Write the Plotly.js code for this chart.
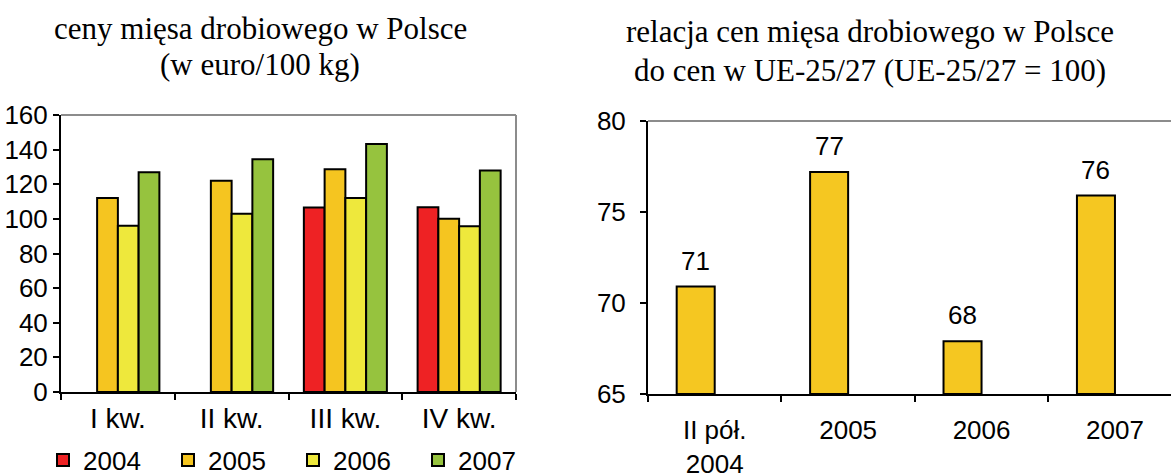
<!DOCTYPE html>
<html>
<head>
<meta charset="utf-8">
<script src="https://cdn.plot.ly/plotly-3.0.1.min.js"></script>
<style>
  html, body { margin: 0; padding: 0; background: #ffffff; overflow: hidden; }
  #chart { width: 1171px; height: 476px; }
</style>
</head>
<body>
<div id="chart"></div>
<script>
// ---- Data: left chart (prices, euro/100 kg) ----
const quarters = ["I kw.", "II kw.", "III kw.", "IV kw."];
const years = ["2004", "2005", "2006", "2007"];
const price2004 = [null, null, 106.5, 106.7];
const price2005 = [112, 122, 128.6, 100];
const price2006 = [96, 103, 112, 95.7];
const price2007 = [127, 134.4, 143.2, 128];
const yearColors = ["#EE2224", "#F5C520", "#EEE83C", "#96C33E"];

// ---- Data: right chart (ratio to EU-25/27 = 100) ----
const periods = ["II pół.<br>2004", "2005", "2006", "2007"];
const ratioValues = [70.9, 77.2, 67.9, 75.9];
const ratioLabels = ["71", "77", "68", "76"];

// ---- Titles ----
const leftTitle = ["ceny mięsa drobiowego w Polsce", "(w euro/100 kg)"];
const rightTitle = ["relacja cen mięsa drobiowego w Polsce", "do cen w UE-25/27 (UE-25/27 = 100)"];

const sans = "Liberation Sans, Arial, sans-serif";
const serif = "Liberation Serif, Times New Roman, serif";
const W = 1171, H = 476;
const FS = 26;

const priceSeries = [price2004, price2005, price2006, price2007];
const traces = priceSeries.map((vals, i) => ({
  type: "bar",
  name: years[i],
  x: quarters,
  y: vals,
  xaxis: "x",
  yaxis: "y",
  marker: { color: yearColors[i], line: { color: "#000000", width: 2 } },
  hoverinfo: "x+y+name"
}));

const barW = 0.285;
traces.push({
  type: "bar",
  name: "relacja",
  x: periods,
  y: ratioValues.map(v => v - 65),
  base: 65,
  xaxis: "x2",
  yaxis: "y2",
  offset: -barW,
  width: barW,
  showlegend: false,
  marker: { color: "#F5C721", line: { color: "#000000", width: 2 } }
});

const axisCommon = {
  showgrid: false,
  zeroline: false,
  showline: true,
  linecolor: "#000000",
  linewidth: 2,
  ticks: "outside",
  ticklen: 6,
  tickwidth: 2,
  tickcolor: "#000000",
  automargin: false,
  tickfont: { family: sans, size: FS, color: "#000000" }
};

function titleLine(text, xPx, centerYPx) {
  return {
    xref: "paper", yref: "paper",
    x: xPx / W, y: 1 - centerYPx / H,
    xanchor: "center", yanchor: "middle",
    text: text,
    showarrow: false,
    font: { family: serif, size: 31, color: "#000000" }
  };
}

const annotations = [
  titleLine(leftTitle[0], 260, 28),
  titleLine(leftTitle[1], 260, 65),
  titleLine(rightTitle[0], 870, 32),
  titleLine(rightTitle[1], 870, 70)
];
ratioValues.forEach((v, i) => {
  annotations.push({
    xref: "x2", yref: "y2",
    x: i - barW / 2, y: v,
    xanchor: "center", yanchor: "middle",
    yshift: 26,
    text: ratioLabels[i],
    showarrow: false,
    font: { family: sans, size: FS, color: "#000000" }
  });
});

const layout = {
  width: W,
  height: H,
  margin: { l: 0, r: 0, t: 0, b: 0, pad: 0, autoexpand: false },
  paper_bgcolor: "#ffffff",
  plot_bgcolor: "#ffffff",
  barmode: "group",
  bargap: 0.27,
  bargroupgap: 0,
  showlegend: true,
  legend: {
    orientation: "h",
    x: 43 / W,
    xanchor: "left",
    y: 1 - 460 / H,
    yanchor: "middle",
    entrywidth: 80,
    entrywidthmode: "pixels",
    bgcolor: "rgba(0,0,0,0)",
    font: { family: sans, size: FS, color: "#000000" },
    itemclick: false,
    itemdoubleclick: false,
    traceorder: "normal"
  },
  xaxis: Object.assign({}, axisCommon, {
    domain: [61 / W, 516 / W],
    anchor: "y",
    type: "category",
    range: [-0.5, 3.5],
    tickson: "boundaries",
    tickfont: { family: sans, size: 28, color: "#000000" },
    ticklabelstandoff: 0
  }),
  yaxis: Object.assign({}, axisCommon, {
    domain: [1 - 392 / H, 1 - 115 / H],
    anchor: "x",
    range: [0, 160],
    dtick: 20,
    tick0: 0
  }),
  xaxis2: Object.assign({}, axisCommon, {
    domain: [648 / W, 1],
    anchor: "y2",
    type: "category",
    range: [-0.5, 3.42],
    tickson: "boundaries",
    ticklabelstandoff: 12
  }),
  yaxis2: Object.assign({}, axisCommon, {
    domain: [1 - 394 / H, 1 - 121 / H],
    anchor: "x2",
    range: [65, 80],
    dtick: 5,
    tick0: 65,
    ticklabelstandoff: 9
  }),
  annotations: annotations,
  shapes: [
    { type: "line", xref: "x domain", yref: "y domain", x0: 0, x1: 1, y0: 1, y1: 1,
      line: { color: "#8C8C8C", width: 2 } },
    { type: "line", xref: "x domain", yref: "y domain", x0: 1, x1: 1, y0: 0, y1: 1,
      line: { color: "#8C8C8C", width: 2 } },
    { type: "line", xref: "x2 domain", yref: "y2 domain", x0: 0, x1: 1, y0: 1, y1: 1,
      line: { color: "#8C8C8C", width: 2 } }
  ]
};

Plotly.newPlot("chart", traces, layout, { staticPlot: true, displayModeBar: false });
</script>
</body>
</html>
